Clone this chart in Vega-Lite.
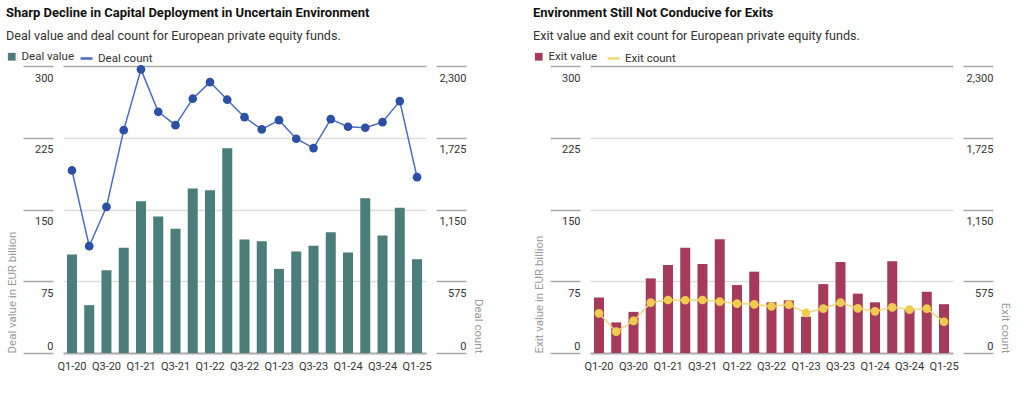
{
  "$schema": "https://vega.github.io/schema/vega-lite/v6.json",
  "background": "white",
  "padding": {"left": 6, "top": 7, "right": 2, "bottom": 2},
  "config": {
    "font": "Roboto",
    "view": {"stroke": null},
    "axis": {"labelFontSize": 11, "labelColor": "#333333", "titleFontSize": 11.5, "titleFontWeight": "normal", "titleColor": "#9a9a9a"},
    "legend": {"labelFontSize": 11.5, "labelColor": "#333333", "padding": 0}
  },
  "datasets": {
    "d": [
      {"q": "Q1-20", "dv": 103, "dc": 1463, "ev": 58, "ec": 318},
      {"q": "Q2-20", "dv": 50, "dc": 856, "ev": 32, "ec": 171},
      {"q": "Q3-20", "dv": 86.5, "dc": 1171, "ev": 43, "ec": 257},
      {"q": "Q4-20", "dv": 110, "dc": 1786, "ev": 78, "ec": 404},
      {"q": "Q1-21", "dv": 158.7, "dc": 2273, "ev": 92, "ec": 425},
      {"q": "Q2-21", "dv": 142.7, "dc": 1933, "ev": 110, "ec": 423},
      {"q": "Q3-21", "dv": 129.8, "dc": 1826, "ev": 93, "ec": 425},
      {"q": "Q4-21", "dv": 172, "dc": 2038, "ev": 119, "ec": 412},
      {"q": "Q1-22", "dv": 170, "dc": 2171, "ev": 71, "ec": 396},
      {"q": "Q2-22", "dv": 214, "dc": 2030, "ev": 85, "ec": 390},
      {"q": "Q3-22", "dv": 118.6, "dc": 1890, "ev": 53, "ec": 374},
      {"q": "Q4-22", "dv": 116.8, "dc": 1792, "ev": 55, "ec": 388},
      {"q": "Q1-23", "dv": 87.9, "dc": 1866, "ev": 38, "ec": 321},
      {"q": "Q2-23", "dv": 106, "dc": 1717, "ev": 72, "ec": 356},
      {"q": "Q3-23", "dv": 112, "dc": 1642, "ev": 95, "ec": 404},
      {"q": "Q4-23", "dv": 126.3, "dc": 1874, "ev": 62, "ec": 358},
      {"q": "Q1-24", "dv": 105, "dc": 1813, "ev": 53, "ec": 334},
      {"q": "Q2-24", "dv": 161.8, "dc": 1805, "ev": 96, "ec": 366},
      {"q": "Q3-24", "dv": 122.8, "dc": 1850, "ev": 46, "ec": 348},
      {"q": "Q4-24", "dv": 151.7, "dc": 2019, "ev": 64, "ec": 356},
      {"q": "Q1-25", "dv": 98, "dc": 1409, "ev": 51, "ec": 250}
    ]
  },
  "data": {"name": "d"},
  "spacing": 49,
  "resolve": {"scale": {"fill": "independent", "stroke": "independent"}},
  "hconcat": [
    {
      "width": 363,
      "height": 287,
      "title": {"text": "Sharp Decline in Capital Deployment in Uncertain Environment", "subtitle": "Deal value and deal count for European private equity funds.", "anchor": "start", "fontSize": 13, "fontWeight": "bold", "color": "#111111", "subtitleFontSize": 12.6, "subtitleColor": "#333333", "subtitlePadding": 10, "offset": 8},
      "encoding": {
        "x": {"field": "q", "type": "ordinal", "sort": null, "title": null,
          "scale": {"paddingInner": 0.42, "paddingOuter": 0.23},
          "axis": {"values": ["Q1-20", "Q3-20", "Q1-21", "Q3-21", "Q1-22", "Q3-22", "Q1-23", "Q3-23", "Q1-24", "Q3-24", "Q1-25"], "labelAngle": 0, "ticks": false, "domain": false, "labelPadding": 7, "labelBaseline": "top"}}
      },
      "layer": [
        {
          "mark": {"type": "bar"},
          "encoding": {
            "y": {"field": "dv", "type": "quantitative", "scale": {"domain": [0, 300]},
              "axis": {"orient": "left", "values": [0, 75, 150, 225, 300], "offset": 10, "tickSize": 30, "tickColor": "#a8a8a8", "tickWidth": 1.5, "domain": false, "labelAlign": "right", "labelPadding": -30,
                "labelBaseline": {"condition": {"test": "datum.value == 0", "value": "alphabetic"}, "value": "top"},
                "labelOffset": {"condition": {"test": "datum.value == 0", "value": -4}, "value": 6},
                "title": "Deal value in EUR billion", "titleAnchor": "start", "titlePadding": 5,
                "grid": true,
                "gridColor": {"condition": {"test": "datum.value == 0 || datum.value == 300", "value": "#aaaaaa"}, "value": "#dddddd"},
                "gridWidth": {"condition": {"test": "datum.value == 0", "value": 2}, "value": 1.3}}},
            "fill": {"datum": "Deal value", "type": "nominal", "scale": {"range": ["#4b7d7b"]},
              "legend": {"title": null, "orient": "none", "legendX": -57, "legendY": -15, "symbolType": "square", "symbolSize": 60, "symbolStrokeWidth": 0}}
          }
        },
        {
          "encoding": {
            "y": {"field": "dc", "type": "quantitative", "scale": {"domain": [0, 2300]},
              "axis": {"orient": "right", "values": [0, 575, 1150, 1725, 2300], "format": ",.0f", "offset": 10, "tickSize": 30, "tickColor": "#a8a8a8", "tickWidth": 1.5, "domain": false, "labelAlign": "right", "labelPadding": 0,
                "labelBaseline": {"condition": {"test": "datum.value == 0", "value": "alphabetic"}, "value": "top"},
                "labelOffset": {"condition": {"test": "datum.value == 0", "value": -4}, "value": 6},
                "title": "Deal count", "titleAnchor": "start", "titleAlign": "right", "titlePadding": 6, "grid": false}}
          },
          "layer": [
            {"mark": {"type": "line", "strokeWidth": 1.5},
              "encoding": {"stroke": {"datum": "Deal count", "type": "nominal", "scale": {"range": ["#4a6cc0"]},
                "legend": {"title": null, "orient": "none", "legendX": 16, "legendY": -15, "symbolType": "stroke", "symbolSize": 144, "symbolStrokeWidth": 2.5}}}},
            {"mark": {"type": "point", "filled": true, "size": 75, "color": "#2b50a6", "opacity": 1}}
          ]
        }
      ],
      "resolve": {"scale": {"y": "independent"}}
    },
    {
      "width": 363,
      "height": 287,
      "title": {"text": "Environment Still Not Conducive for Exits", "subtitle": "Exit value and exit count for European private equity funds.", "anchor": "start", "fontSize": 13, "fontWeight": "bold", "color": "#111111", "subtitleFontSize": 12.6, "subtitleColor": "#333333", "subtitlePadding": 10, "offset": 8},
      "encoding": {
        "x": {"field": "q", "type": "ordinal", "sort": null, "title": null,
          "scale": {"paddingInner": 0.42, "paddingOuter": 0.23},
          "axis": {"values": ["Q1-20", "Q3-20", "Q1-21", "Q3-21", "Q1-22", "Q3-22", "Q1-23", "Q3-23", "Q1-24", "Q3-24", "Q1-25"], "labelAngle": 0, "ticks": false, "domain": false, "labelPadding": 7, "labelBaseline": "top"}}
      },
      "layer": [
        {
          "mark": {"type": "bar"},
          "encoding": {
            "y": {"field": "ev", "type": "quantitative", "scale": {"domain": [0, 300]},
              "axis": {"orient": "left", "values": [0, 75, 150, 225, 300], "offset": 10, "tickSize": 30, "tickColor": "#a8a8a8", "tickWidth": 1.5, "domain": false, "labelAlign": "right", "labelPadding": -30,
                "labelBaseline": {"condition": {"test": "datum.value == 0", "value": "alphabetic"}, "value": "top"},
                "labelOffset": {"condition": {"test": "datum.value == 0", "value": -4}, "value": 6},
                "title": "Exit value in EUR billion", "titleAnchor": "start", "titlePadding": 5,
                "grid": true,
                "gridColor": {"condition": {"test": "datum.value == 0 || datum.value == 300", "value": "#aaaaaa"}, "value": "#dddddd"},
                "gridWidth": {"condition": {"test": "datum.value == 0", "value": 2}, "value": 1.3}}},
            "fill": {"datum": "Exit value", "type": "nominal", "scale": {"range": ["#a63a5a"]},
              "legend": {"title": null, "orient": "none", "legendX": -57, "legendY": -15, "symbolType": "square", "symbolSize": 60, "symbolStrokeWidth": 0}}
          }
        },
        {
          "encoding": {
            "y": {"field": "ec", "type": "quantitative", "scale": {"domain": [0, 2300]},
              "axis": {"orient": "right", "values": [0, 575, 1150, 1725, 2300], "format": ",.0f", "offset": 10, "tickSize": 30, "tickColor": "#a8a8a8", "tickWidth": 1.5, "domain": false, "labelAlign": "right", "labelPadding": 0,
                "labelBaseline": {"condition": {"test": "datum.value == 0", "value": "alphabetic"}, "value": "top"},
                "labelOffset": {"condition": {"test": "datum.value == 0", "value": -4}, "value": 6},
                "title": "Exit count", "titleAnchor": "start", "titleAlign": "right", "titlePadding": 6, "grid": false}}
          },
          "layer": [
            {"mark": {"type": "line", "strokeWidth": 1.5},
              "encoding": {"stroke": {"datum": "Exit count", "type": "nominal", "scale": {"range": ["#f4d77c"]},
                "legend": {"title": null, "orient": "none", "legendX": 16, "legendY": -15, "symbolType": "stroke", "symbolSize": 144, "symbolStrokeWidth": 2.5}}}},
            {"mark": {"type": "point", "filled": true, "size": 75, "color": "#f0cb4e", "opacity": 1}}
          ]
        }
      ],
      "resolve": {"scale": {"y": "independent"}}
    }
  ]
}
